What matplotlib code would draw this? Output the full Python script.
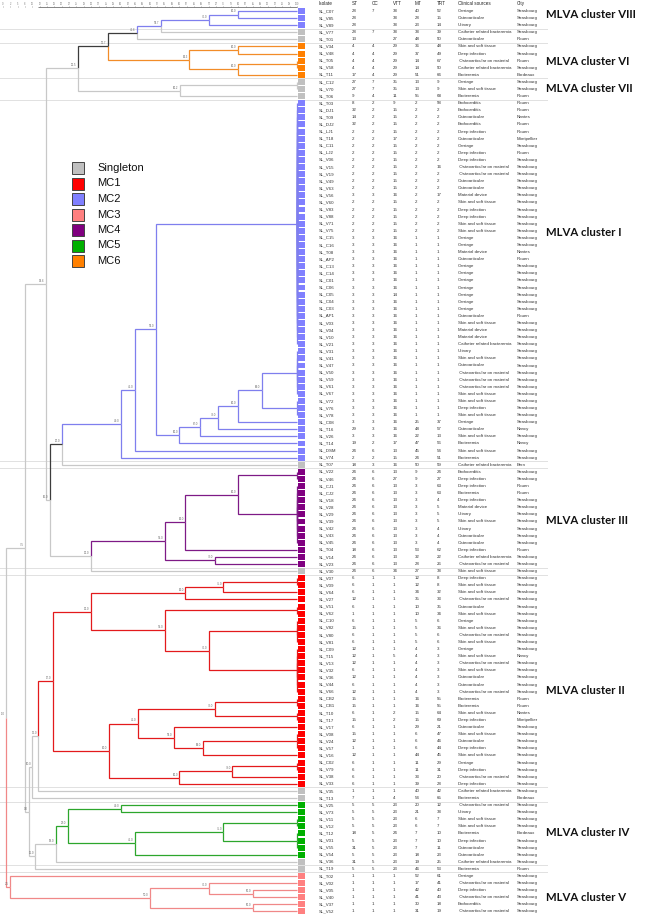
import matplotlib.pyplot as plt
from matplotlib.patches import Rectangle

plt.rcParams['font.family'] = ['Liberation Sans', 'DejaVu Sans']

# ---- table data (one entry per isolate, top to bottom) ----
isolates = ['SL_C07', 'SL_V85', 'SL_V89', 'SL_V77', 'SL_T01',
            'SL_V34', 'SL_V48', 'SL_T05', 'SL_V58', 'SL_T11',
            'SL_C12', 'SL_V70', 'SL_T06',
            'SL_T03', 'SL_DJ1', 'SL_T09', 'SL_DJ2', 'SL_LJ1', 'SL_T18', 'SL_C11', 'SL_LJ2', 'SL_V06', 'SL_V15',
            'SL_V19', 'SL_V49', 'SL_V63', 'SL_V56', 'SL_V60', 'SL_V83', 'SL_V88', 'SL_V71', 'SL_V75',
            'SL_C15', 'SL_C16', 'SL_T08', 'SL_AP2', 'SL_C13', 'SL_C14', 'SL_C01', 'SL_C06', 'SL_C05', 'SL_C04',
            'SL_C03', 'SL_AP1', 'SL_V03', 'SL_V04', 'SL_V10', 'SL_V21', 'SL_V31', 'SL_V41', 'SL_V47', 'SL_V50',
            'SL_V59', 'SL_V61', 'SL_V67', 'SL_V72', 'SL_V76', 'SL_V78',
            'SL_C08', 'SL_T16', 'SL_V26', 'SL_T14', 'SL_DSM', 'SL_V74',
            'SL_T07',
            'SL_V22', 'SL_V46', 'SL_CJ1', 'SL_CJ2', 'SL_V18', 'SL_V28', 'SL_V29', 'SL_V39', 'SL_V42', 'SL_V43',
            'SL_V45', 'SL_T04', 'SL_V14', 'SL_V23',
            'SL_V30',
            'SL_V07', 'SL_V09', 'SL_V64', 'SL_V27', 'SL_V51', 'SL_V62', 'SL_C10', 'SL_V82', 'SL_V80', 'SL_V81',
            'SL_C09', 'SL_T15', 'SL_V13', 'SL_V32', 'SL_V36', 'SL_V44', 'SL_V66', 'SL_CB2', 'SL_CB1', 'SL_T10',
            'SL_T17', 'SL_V17', 'SL_V08', 'SL_V24', 'SL_V57', 'SL_V16', 'SL_C02', 'SL_V79', 'SL_V38', 'SL_V33',
            'SL_V35', 'SL_T13',
            'SL_V25', 'SL_V73', 'SL_V11', 'SL_V12', 'SL_T12', 'SL_V01', 'SL_V55', 'SL_V54', 'SL_V36',
            'SL_T19',
            'SL_T02', 'SL_V02', 'SL_V05', 'SL_V40', 'SL_V37', 'SL_V52']

st = [28, 28, 28, 28, 13, 4, 4, 4, 4, 17, 27, 27, 9,
      8, 32, 14, 32, 2, 2, 2, 2, 2, 2,
      2, 2, 2, 3, 2, 2, 2, 2, 2,
      3, 3, 3, 3, 3, 3, 3, 3, 3, 3,
      3, 3, 3, 3, 3, 3, 3, 3, 3, 3,
      3, 3, 3, 3, 3, 3,
      3, 29, 3, 19, 24, 2,
      18,
      24, 24, 24, 24, 24, 24, 24, 24, 24, 24,
      24, 18, 24, 24,
      24,
      6, 6, 6, 12, 6, 1, 6, 15, 6, 6,
      12, 12, 12, 6, 12, 6, 12, 15, 15, 6,
      15, 6, 15, 12, 1, 12, 6, 6, 6, 6,
      1, 7,
      5, 5, 5, 5, 18, 5, 31, 5, 31,
      5,
      1, 1, 1, 1, 1, 1]

cc = ['7', '', '', '7', '', '4', '4', '4', '4', '4', '7', '7', '4',
      '2', '2', '2', '2', '2', '2', '2', '2', '2', '2',
      '2', '2', '2', '3', '2', '2', '2', '2', '2',
      '3', '3', '3', '3', '3', '3', '3', '3', '3', '3',
      '3', '3', '3', '3', '3', '3', '3', '3', '3', '3',
      '3', '3', '3', '3', '3', '3',
      '3', '3', '3', '2', '6', '2',
      '3',
      '6', '6', '6', '6', '6', '6', '6', '6', '6', '6',
      '6', '6', '6', '6',
      '6',
      '1', '1', '1', '1', '1', '1', '1', '1', '1', '1',
      '1', '1', '1', '1', '1', '1', '1', '1', '1', '1',
      '1', '1', '1', '1', '1', '1', '1', '1', '1', '1',
      '1', '1',
      '5', '5', '5', '5', '5', '5', '5', '5', '5',
      '5',
      '1', '1', '1', '1', '1', '1']

vtt = [38, 38, 38, 38, 27, 29, 29, 29, 29, 29, 35, 35, 11,
       9, 15, 15, 15, 15, 17, 15, 15, 15, 15,
       15, 15, 15, 16, 15, 15, 15, 15, 15,
       16, 16, 16, 16, 16, 16, 16, 16, 14, 16,
       16, 16, 16, 16, 16, 16, 16, 16, 16, 16,
       16, 16, 16, 16, 16, 16,
       16, 16, 16, 17, 13, 15,
       16,
       13, 27, 13, 13, 13, 13, 13, 13, 13, 13,
       13, 13, 13, 13,
       34,
       1, 1, 1, 1, 1, 1, 1, 1, 1, 1,
       1, 5, 1, 1, 1, 1, 1, 1, 1, 2,
       2, 1, 1, 1, 1, 1, 1, 1, 1, 1,
       1, 4,
       23, 23, 23, 23, 24, 23, 23, 23, 23,
       23,
       1, 1, 1, 1, 1, 1]

mt = [40, 28, 23, 38, 48, 36, 37, 14, 14, 51, 13, 13, 55,
      2, 2, 2, 2, 2, 2, 2, 2, 2, 2,
      2, 2, 2, 2, 2, 2, 2, 2, 2,
      1, 1, 1, 1, 1, 1, 1, 1, 1, 1,
      1, 1, 1, 1, 1, 1, 1, 1, 1, 1,
      1, 1, 1, 1, 1, 1,
      25, 48, 22, 47, 45, 24,
      50,
      9, 9, 3, 3, 3, 3, 3, 3, 3, 3,
      3, 53, 32, 28,
      27,
      12, 12, 34, 35, 10, 10, 5, 5, 5, 5,
      4, 4, 4, 4, 4, 4, 4, 16, 16, 15,
      15, 29, 6, 6, 6, 44, 11, 11, 33, 39,
      40, 54,
      20, 21, 6, 6, 7, 7, 7, 18, 19,
      46,
      52, 17, 42, 41, 30, 31]

trt = [52, 15, 14, 39, 50, 48, 49, 67, 50, 66, 9, 9, 68,
       58, 2, 2, 2, 2, 2, 2, 2, 2, 16,
       2, 2, 2, 17, 2, 2, 2, 2, 2,
       1, 1, 1, 1, 1, 1, 1, 1, 1, 1,
       1, 1, 1, 1, 1, 1, 1, 1, 1, 1,
       1, 1, 1, 1, 1, 1,
       37, 57, 13, 56, 54, 51,
       59,
       24, 27, 63, 63, 4, 5, 5, 5, 4, 4,
       4, 62, 22, 26,
       38,
       8, 8, 32, 33, 35, 34, 6, 36, 6, 6,
       3, 3, 3, 3, 3, 3, 3, 55, 55, 64,
       69, 21, 47, 46, 44, 45, 29, 31, 20, 28,
       42, 65,
       12, 38, 7, 7, 10, 10, 11, 23, 25,
       53,
       61, 41, 40, 43, 18, 19]

source_names = {'C': 'Carriage', 'O': 'Osteoarticular', 'U': 'Urinary',
                'CRB': 'Catheter related bacteremia', 'OM': ' Osteoarticular on material',
                'SST': 'Skin and soft tissue', 'DI': 'Deep infection', 'B': 'Bacteremia',
                'E': 'Endocarditis', 'MD': 'Material device'}
sources = ['C', 'O', 'U', 'CRB', 'O', 'SST', 'DI', 'OM', 'CRB', 'B', 'C', 'SST', 'B',
           'E', 'E', 'O', 'E', 'DI', 'O', 'C', 'DI', 'DI', 'OM',
           'OM', 'O', 'O', 'MD', 'SST', 'DI', 'DI', 'SST', 'SST',
           'C', 'C', 'MD', 'O', 'C', 'C', 'C', 'C', 'C', 'C',
           'C', 'O', 'SST', 'MD', 'MD', 'CRB', 'U', 'SST', 'O', 'OM',
           'OM', 'OM', 'SST', 'SST', 'DI', 'SST',
           'C', 'O', 'SST', 'B', 'SST', 'B',
           'CRB',
           'E', 'DI', 'DI', 'B', 'DI', 'MD', 'U', 'SST', 'U', 'O',
           'O', 'DI', 'CRB', 'OM',
           'SST',
           'DI', 'SST', 'SST', 'OM', 'O', 'SST', 'C', 'SST', 'OM', 'SST',
           'C', 'SST', 'OM', 'SST', 'O', 'O', 'OM', 'B', 'B', 'SST',
           'DI', 'O', 'SST', 'O', 'DI', 'SST', 'C', 'DI', 'OM', 'DI',
           'CRB', 'B',
           'OM', 'U', 'SST', 'SST', 'B', 'DI', 'O', 'O', 'CRB',
           'B',
           'C', 'OM', 'DI', 'OM', 'E', 'OM']

city_names = {'S': 'Strasbourg', 'R': 'Rouen', 'N': 'Nantes', 'M': 'Montpellier',
              'Nc': 'Nancy', 'Bd': 'Bordeaux', 'Be': 'Bern'}
cities = ['S', 'S', 'S', 'S', 'R', 'S', 'S', 'R', 'S', 'Bd', 'S', 'S', 'R',
          'R', 'R', 'N', 'R', 'R', 'M', 'S', 'R', 'S', 'S',
          'S', 'S', 'S', 'S', 'S', 'S', 'S', 'S', 'S',
          'S', 'S', 'N', 'R', 'S', 'S', 'S', 'S', 'S', 'S',
          'S', 'R', 'S', 'S', 'S', 'S', 'S', 'S', 'S', 'S',
          'S', 'S', 'S', 'S', 'S', 'S',
          'S', 'Nc', 'S', 'Nc', 'S', 'S',
          'Be',
          'S', 'S', 'R', 'R', 'S', 'S', 'S', 'S', 'S', 'S',
          'S', 'R', 'S', 'S',
          'S',
          'S', 'S', 'S', 'S', 'S', 'S', 'S', 'S', 'S', 'S',
          'S', 'Nc', 'S', 'S', 'S', 'S', 'S', 'R', 'R', 'N',
          'M', 'S', 'S', 'S', 'S', 'S', 'S', 'S', 'S', 'S',
          'S', 'Bd',
          'S', 'S', 'S', 'S', 'Bd', 'S', 'S', 'S', 'S',
          'R',
          'S', 'S', 'S', 'S', 'S', 'S']

# MLVA complex of each isolate (S = singleton)
mc = (['MC2'] * 3 + ['S'] * 2 + ['MC6'] * 5 + ['S'] * 3 + ['MC2'] * 51 + ['S'] +
      ['MC4'] * 14 + ['S'] + ['MC1'] * 30 + ['S'] * 2 + ['MC5'] * 8 + ['S'] * 2 + ['MC3'] * 6)

legend_labels = ['Singleton', 'MC1', 'MC2', 'MC3', 'MC4', 'MC5', 'MC6']
legend_keys = ['S', 'MC1', 'MC2', 'MC3', 'MC4', 'MC5', 'MC6']

cluster_names = ['MLVA cluster VIII', 'MLVA cluster VI', 'MLVA cluster VII', 'MLVA cluster I',
                 'MLVA cluster III', 'MLVA cluster II', 'MLVA cluster IV', 'MLVA cluster V']
cluster_rows = [1.45, 8.15, 12.0, 32.3, 72.8, 96.8, 116.8, 126.0]
sep_after = [3, 5, 10, 13, 64, 65, 79, 80, 110, 112, 121, 122]

# dendrogram: node -> (similarity %, children); ints are row numbers
tree = {
    'a1': (80.0, [1, 2]), 'a2': (70.0, ['a1', 3]), 'a3': (53.7, ['a2', 4]), 'a4': (45.6, ['a3', 5]),
    'b1': (80.0, [6, 7]), 'b2': (100.0, [8, 9]), 'b3': (80.0, ['b2', 10]), 'b4': (63.3, ['b1', 'b3']),
    'a5': (35.7, ['a4', 'b4']),
    'c1': (100.0, [11, 12]), 'c2': (60.2, ['c1', 13]),
    'a6': (25.5, ['a5', 'c2']),
    'i1': (100.0, list(range(14, 49))), 'i2': (100.0, list(range(49, 56))), 'i3': (100.0, [56, 57, 58]),
    'i4': (88.0, ['i2', 'i3']), 'i5': (80.0, ['i4', 59]), 'i6': (73.0, ['i5', 60]), 'i7': (67.0, ['i6', 61]),
    'i8': (60.0, ['i7', 62]), 'i9': (52.0, ['i1', 'i8']), 'i10': (45.0, ['i9', 63]),
    'i11': (40.0, ['i10', 64]), 'i12': (20.0, ['i11', 65]),
    'p0': (100.0, [66, 67]), 'p00': (100.0, list(range(68, 77))), 'p1': (80.0, ['p0', 'p00']),
    'p2': (62.0, ['p1', 77]), 'p3': (72.0, [78, 79]), 'p4': (55.0, ['p2', 'p3']), 'p5': (30.0, ['p4', 80]),
    'x1': (16.0, ['i12', 'p5']),
    'top': (14.6, ['a6', 'x1']),
    'r0a': (100.0, [81, 82]), 'r1': (75.0, ['r0a', 83]), 'r2': (62.0, ['r1', 84]),
    'r0b': (100.0, [85, 86]), 'r0c': (100.0, [87, 88, 89, 90]), 'r0d': (100.0, list(range(91, 98))),
    'r4': (70.0, ['r0c', 'r0d']), 'r3': (55.0, ['r0b', 'r4']), 'r5': (30.0, ['r2', 'r3']),
    'r0e': (100.0, [98, 99]), 'r0f': (100.0, [100, 101]), 'r6': (72.0, ['r0e', 'r0f']),
    'r0g': (100.0, [103, 104, 105]), 'r7': (68.0, ['r0g', 106]), 'r8': (58.0, [102, 'r7']),
    'r9': (46.0, ['r6', 'r8']), 'r0h': (100.0, [107, 108]), 'r10': (78.0, ['r0h', 109]),
    'r11': (60.0, ['r10', 110]), 'r12': (36.0, ['r9', 'r11']), 'r13': (17.0, ['r5', 'r12']),
    'm1': (12.0, ['r13', 111]), 'm2': (10.0, ['m1', 112]),
    'g0': (40.0, [113, 114]), 'g0b': (100.0, [115, 116]), 'g0c': (100.0, [117, 118, 119]),
    'g1': (75.0, ['g0b', 'g0c']), 'g2': (45.0, ['g1', 120]), 'g3': (22.0, ['g0', 'g2']),
    'g4': (18.0, ['g3', 121]), 'g5': (11.0, ['g4', 122]),
    'm3': (9.0, ['m2', 'g5']),
    'n25': (7.5, ['top', 'm3']),
    'v1': (85.0, [125, 126]), 'v2': (85.0, [127, 128]), 'v3': (70.0, [124, 'v1']),
    'v4': (50.0, ['v3', 'v2']), 'v5': (2.5, [123, 'v4']),
    'root': (1.0, ['n25', 'v5']),
}
branch_override = {'a3': 'MC2', 'a4': 'K', 'a5': 'K', 'i12': 'K'}

sq_col = {'S': '#C0C0C0', 'MC1': '#FF0000', 'MC2': '#8080FF', 'MC3': '#FF8080',
          'MC4': '#800080', 'MC5': '#00B000', 'MC6': '#FF8000'}
line_col = {'S': '#C8C8C8', 'MC1': '#E31A1C', 'MC2': '#7F7FEE', 'MC3': '#F08888',
            'MC4': '#7E1A86', 'MC5': '#2CA62C', 'MC6': '#F28C28', 'K': '#3C3C3C'}

# ---- vertical layout shared by every layer: row r sits at 11 + (r-1)*7.09 px ----
ROW0, ROWH, H = 11.0, 7.09, 918.0
ylims = (1 + (H - ROW0) / ROWH, 1 - ROW0 / ROWH)

fig = plt.figure(figsize=(6.6, 9.18), dpi=100)
ax = fig.add_axes([0, 0, 1, 1])
ax.set_xlim(0, 660)
ax.set_ylim(*ylims)
ax.axis('off')
axd = fig.add_axes([3 / 660, 0, 294 / 660, 1])
axd.set_xlim(0, 100)
axd.set_ylim(*ylims)
axd.axis('off')

rows = list(range(1, len(isolates) + 1))

# dotted separators between groups
ax.hlines([r + 0.5 for r in sep_after], 0, 548, colors='#B8B8B8', linestyles=(0, (1.2, 1.2)), lw=0.6, zorder=0)


def node_y(n):
    if isinstance(n, int):
        return float(n)
    kids = tree[n][1]
    return (node_y(kids[0]) + node_y(kids[-1])) / 2


def leaf_groups(n):
    if isinstance(n, int):
        return {mc[n - 1]}
    out = set()
    for k in tree[n][1]:
        out |= leaf_groups(k)
    return out


def branch_color(n):
    if n in branch_override:
        return line_col[branch_override[n]]
    g = leaf_groups(n)
    return line_col[g.pop()] if len(g) == 1 else line_col['S']


for name, (sim, kids) in tree.items():
    y0 = node_y(name)
    for k in kids:
        ky = node_y(k)
        kx = 100.0 if isinstance(k, int) else tree[k][0]
        axd.plot([sim, sim, kx], [y0, ky, ky], color=branch_color(k), lw=0.9,
                 solid_capstyle='butt', solid_joinstyle='miter', clip_on=False, zorder=2)
    if sim < 100:
        axd.text(sim - 0.5, y0 - 0.15, f'{sim:.1f}', fontsize=2, color='#666666',
                 ha='right', va='bottom', zorder=3)

# similarity scale on top
scale_ticks = [i * 2.5 for i in range(41)]
axd.hlines(0.48, 12, 100, colors='#555555', lw=0.5, clip_on=False)
axd.vlines(scale_ticks, 0.28, 0.48, colors='#777777', lw=0.4, clip_on=False)
for t in scale_ticks:
    axd.text(t, 0.25, f'{t:.0f}', fontsize=1.8, color='#777777', ha='center', va='bottom')

# coloured squares next to the leaves
ax.barh(rows, 7, left=298, height=0.84, color=[sq_col[g] for g in mc], zorder=2)

# table
col_x = [319, 352, 372, 393, 415, 437, 458, 517]
headers = ['Isolate', 'ST', 'CC', 'VTT', 'MT', 'TRT', 'Clinical sources', 'City']
for x, h in zip(col_x, headers):
    ax.text(x, 0, h, fontsize=3.3, color='#222222', va='center')
for r, vals in zip(rows, zip(isolates, st, cc, vtt, mt, trt, sources, cities)):
    iso, s, c, v, m, t, src, cty = vals
    cells = [iso, str(s), c, str(v), str(m), str(t), source_names[src], city_names[cty]]
    for x, txt in zip(col_x, cells):
        ax.text(x, r, txt, fontsize=3.2, color='#333333', va='center')

# cluster labels
for name, r in zip(cluster_names, cluster_rows):
    ax.text(546, r, name, fontsize=8.2, fontweight='bold', family=['Lato', 'DejaVu Sans'],
            color='#111111', va='center')

# legend (pixel layer)
axl = fig.add_axes([0, 0, 1, 1])
axl.set_xlim(0, 660)
axl.set_ylim(918, 0)
axl.axis('off')
for i, (lab, key) in enumerate(zip(legend_labels, legend_keys)):
    yc = 168 + i * 15.5
    axl.add_patch(Rectangle((72, yc - 6), 12, 12, facecolor=sq_col[key], edgecolor='#444444', lw=0.7))
    axl.text(97, yc, lab, fontsize=8, color='#111111', va='center')

fig.savefig('out.png', dpi=100)
